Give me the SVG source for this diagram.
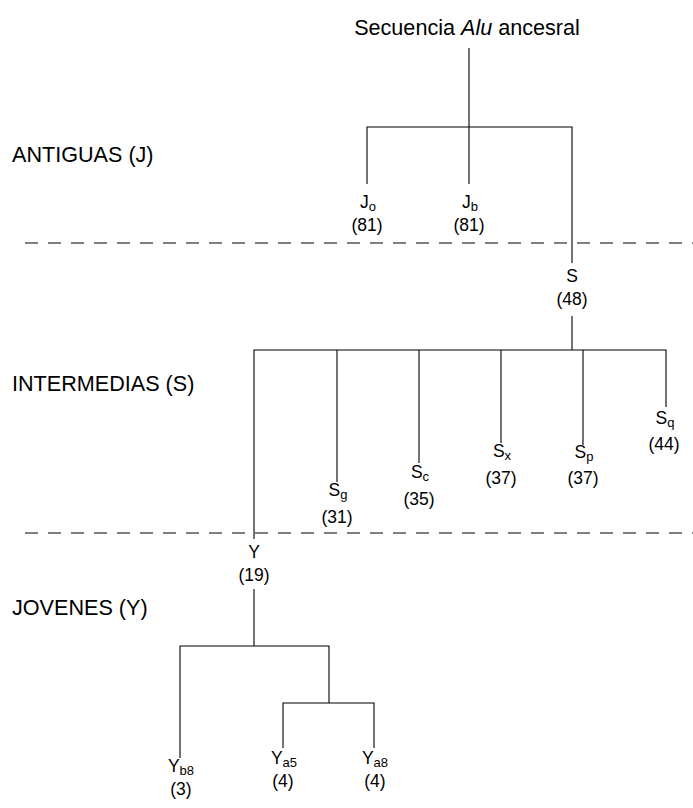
<svg xmlns="http://www.w3.org/2000/svg" width="693" height="808" viewBox="0 0 693 808">
  <style>
    .lbl { font-family: "Liberation Sans", Arial, sans-serif; font-size: 17.5px; fill: #000; text-anchor: middle; }
    .big { font-family: "Liberation Sans", Arial, sans-serif; font-size: 21.6px; fill: #000; }
    .sub { font-size: 13px; }
    .edge { stroke: #000; stroke-width: 1.1; fill: none; }
    .sep { stroke: #000; stroke-width: 1.1; stroke-dasharray: 13 10; fill: none; }
  </style>
  <rect width="693" height="808" fill="#fff"/>

  <!-- era separators -->
  <g id="separators">
    <line class="sep" x1="25" y1="243" x2="693" y2="243"/>
    <line class="sep" x1="25" y1="533" x2="693" y2="533"/>
  </g>

  <!-- era headings -->
  <g id="headings">
    <text class="big" x="12" y="162">ANTIGUAS (J)</text>
    <text class="big" x="12" y="391">INTERMEDIAS (S)</text>
    <text class="big" x="12" y="615">JOVENES (Y)</text>
  </g>

  <!-- tree branches -->
  <g id="connectors">
    <path class="edge" d="M469 48 V127 M367 184 V127 H572 V263 M469 127 V184"/>
    <path class="edge" d="M572 316 V350 M254 539 V350 H666 V407 M337 350 V482 M419 350 V463 M501 350 V443 M583 350 V445"/>
    <path class="edge" d="M254 589 V646 M180 758 V646 H329 V703 M283 748 V703 H374 V748"/>
  </g>

  <g id="root">
    <text class="big" x="467" y="35" text-anchor="middle">Secuencia <tspan font-style="italic">Alu</tspan> ancesral</text>
  </g>

  <g id="node-Jo">
    <text class="lbl" x="368" y="208">J<tspan class="sub" dy="3">o</tspan></text>
    <text class="lbl" x="367" y="231">(81)</text>
  </g>
  <g id="node-Jb">
    <text class="lbl" x="470" y="208">J<tspan class="sub" dy="3">b</tspan></text>
    <text class="lbl" x="469" y="231">(81)</text>
  </g>
  <g id="node-S">
    <text class="lbl" x="572" y="282">S</text>
    <text class="lbl" x="572" y="305">(48)</text>
  </g>
  <g id="node-Sg">
    <text class="lbl" x="338" y="496">S<tspan class="sub" dy="3">g</tspan></text>
    <text class="lbl" x="337" y="523">(31)</text>
  </g>
  <g id="node-Sc">
    <text class="lbl" x="420" y="478">S<tspan class="sub" dy="3">c</tspan></text>
    <text class="lbl" x="419" y="505">(35)</text>
  </g>
  <g id="node-Sx">
    <text class="lbl" x="502" y="457">S<tspan class="sub" dy="3">x</tspan></text>
    <text class="lbl" x="501" y="484">(37)</text>
  </g>
  <g id="node-Sp">
    <text class="lbl" x="584" y="458">S<tspan class="sub" dy="3">p</tspan></text>
    <text class="lbl" x="583" y="484">(37)</text>
  </g>
  <g id="node-Sq">
    <text class="lbl" x="665" y="424">S<tspan class="sub" dy="3">q</tspan></text>
    <text class="lbl" x="664" y="450">(44)</text>
  </g>
  <g id="node-Y">
    <text class="lbl" x="254" y="558">Y</text>
    <text class="lbl" x="254" y="581">(19)</text>
  </g>
  <g id="node-Yb8">
    <text class="lbl" x="181" y="772">Y<tspan class="sub" dy="3">b8</tspan></text>
    <text class="lbl" x="181" y="795">(3)</text>
  </g>
  <g id="node-Ya5">
    <text class="lbl" x="284" y="764">Y<tspan class="sub" dy="3">a5</tspan></text>
    <text class="lbl" x="283" y="787">(4)</text>
  </g>
  <g id="node-Ya8">
    <text class="lbl" x="375" y="764">Y<tspan class="sub" dy="3">a8</tspan></text>
    <text class="lbl" x="375" y="787">(4)</text>
  </g>
</svg>
